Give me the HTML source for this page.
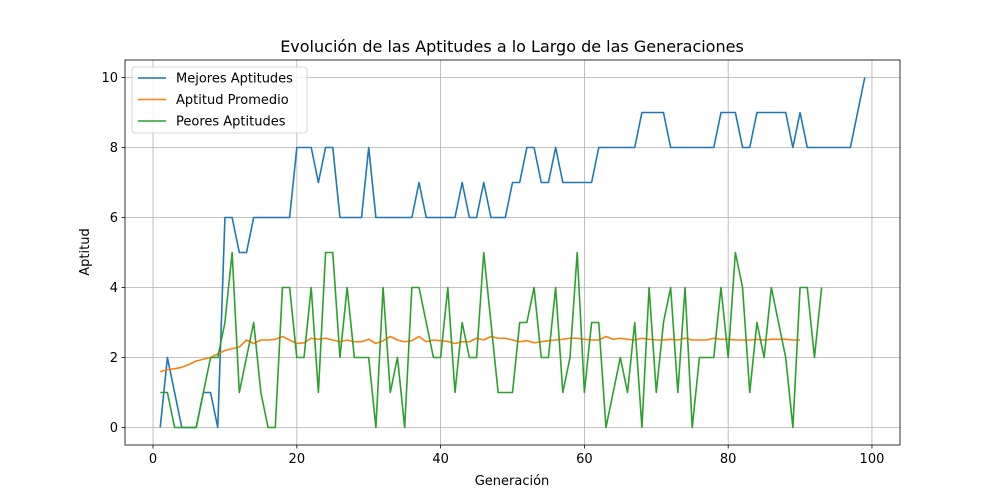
<!DOCTYPE html>
<html><head><meta charset="utf-8"><style>
body{margin:0;background:#fff}
svg{display:block;font-family:"DejaVu Sans","Liberation Sans",sans-serif}
</style></head><body>
<svg id="chart" width="1000" height="500" viewBox="0 0 1000 500">
<rect width="1000" height="500" fill="#fff"/>
<text x="512" y="52" font-size="16" text-anchor="middle">Evolución de las Aptitudes a lo Largo de las Generaciones</text>
<g id="grid"></g><g id="series"></g><g id="axes"></g>
<text x="512" y="485" font-size="13" text-anchor="middle">Generación</text>
<text transform="translate(89,252) rotate(-90)" font-size="13" text-anchor="middle">Aptitud</text>
<g id="legend"></g>
</svg>
<script>
const xTicks=[0,20,40,60,80,100];
const yTicks=[0,2,4,6,8,10];
const best=[0,2,1,0,0,0,1,1,0,6,6,5,5,6,6,6,6,6,6,8,8,8,7,8,8,6,6,6,6,8,6,6,6,6,6,6,7,6,6,6,6,6,7,6,6,7,6,6,6,7,7,8,8,7,7,8,7,7,7,7,7,8,8,8,8,8,8,9,9,9,9,8,8,8,8,8,8,8,9,9,9,8,8,9,9,9,9,9,8,9,8,8,8,8,8,8,8,9,10];
const avg=[1.6,1.65,1.68,1.72,1.8,1.9,1.95,2.0,2.1,2.2,2.25,2.3,2.5,2.4,2.5,2.5,2.52,2.6,2.5,2.4,2.42,2.55,2.52,2.55,2.5,2.45,2.5,2.45,2.45,2.52,2.4,2.48,2.6,2.5,2.45,2.48,2.6,2.45,2.5,2.48,2.46,2.4,2.45,2.45,2.55,2.5,2.6,2.55,2.55,2.5,2.45,2.48,2.42,2.45,2.48,2.5,2.52,2.55,2.55,2.52,2.5,2.5,2.6,2.52,2.55,2.52,2.5,2.55,2.52,2.5,2.5,2.52,2.5,2.55,2.5,2.5,2.5,2.55,2.52,2.52,2.5,2.5,2.5,2.52,2.5,2.52,2.52,2.52,2.5,2.5];
const worst=[1,1,0,0,0,0,1,2,2,3,5,1,2,3,1,0,0,4,4,2,2,4,1,5,5,2,4,2,2,2,0,4,1,2,0,4,4,3,2,2,4,1,3,2,2,5,3,1,1,1,3,3,4,2,2,4,1,2,5,1,3,3,0,1,2,1,3,0,4,1,3,4,1,4,0,2,2,2,4,2,5,4,1,3,2,4,3,2,0,4,4,2,4];
const L=125,R=900,T=60,B=445,x0=-3.9,x1=103.9,y0=-0.5,y1=10.5;
const sx=v=>L+(v-x0)/(x1-x0)*(R-L), sy=v=>B-(v-y0)/(y1-y0)*(B-T);
const NS="http://www.w3.org/2000/svg";
function mk(tag,attrs,parent){const e=document.createElementNS(NS,tag);for(const k in attrs)e.setAttribute(k,attrs[k]);parent.appendChild(e);return e;}
const grid=document.getElementById('grid'),axes=document.getElementById('axes'),ser=document.getElementById('series'),leg=document.getElementById('legend');
xTicks.forEach(t=>{const X=sx(t);
 const g=mk('line',{x1:X,x2:X,y1:T,y2:B,stroke:'#b0b0b0','stroke-width':0.8},grid);
 
 
 mk('line',{x1:X,x2:X,y1:B,y2:B+3.5,stroke:'#000','stroke-width':0.8},axes);
 const tx=mk('text',{x:X,y:B+18,'font-size':13,'text-anchor':'middle'},axes);tx.textContent=t;
 
 });
yTicks.forEach(t=>{const Y=sy(t);
 const g=mk('line',{x1:L,x2:R,y1:Y,y2:Y,stroke:'#b0b0b0','stroke-width':0.8},grid);
 
 
 mk('line',{x1:L-3.5,x2:L,y1:Y,y2:Y,stroke:'#000','stroke-width':0.8},axes);
 const tx=mk('text',{x:L-7,y:Y+4.5,'font-size':13,'text-anchor':'end'},axes);tx.textContent=t;
 
 });
const frame=mk('rect',{x:L,y:T,width:R-L,height:B-T,fill:'none',stroke:'#000','stroke-width':0.8},axes);


const defs=[[best,'#1f77b4','Mejores Aptitudes','best-fitness-line'],[avg,'#ff7f0e','Aptitud Promedio','average-fitness-line'],[worst,'#2ca02c','Peores Aptitudes','worst-fitness-line']];
defs.forEach(([d,c,lab,nm],i)=>{
 const p=mk('polyline',{points:d.map((v,j)=>sx(j+1)+','+sy(v)).join(' '),fill:'none',stroke:c,'stroke-width':1.6,'stroke-linejoin':'round'},ser);
 
 
});
const box=mk('rect',{x:132,y:67,width:175,height:66,rx:3,fill:'#fff','fill-opacity':0.8,stroke:'#ccc','stroke-width':0.8},leg);


defs.forEach(([d,c,lab,nm],i)=>{const Y=78+i*21.5;
 const ln=mk('line',{x1:138,x2:166,y1:Y,y2:Y,stroke:c,'stroke-width':1.6},leg);
 
 
 const tx=mk('text',{x:176,y:Y+4.5,'font-size':13},leg);tx.textContent=lab;
 
 });
</script>
</body></html>
